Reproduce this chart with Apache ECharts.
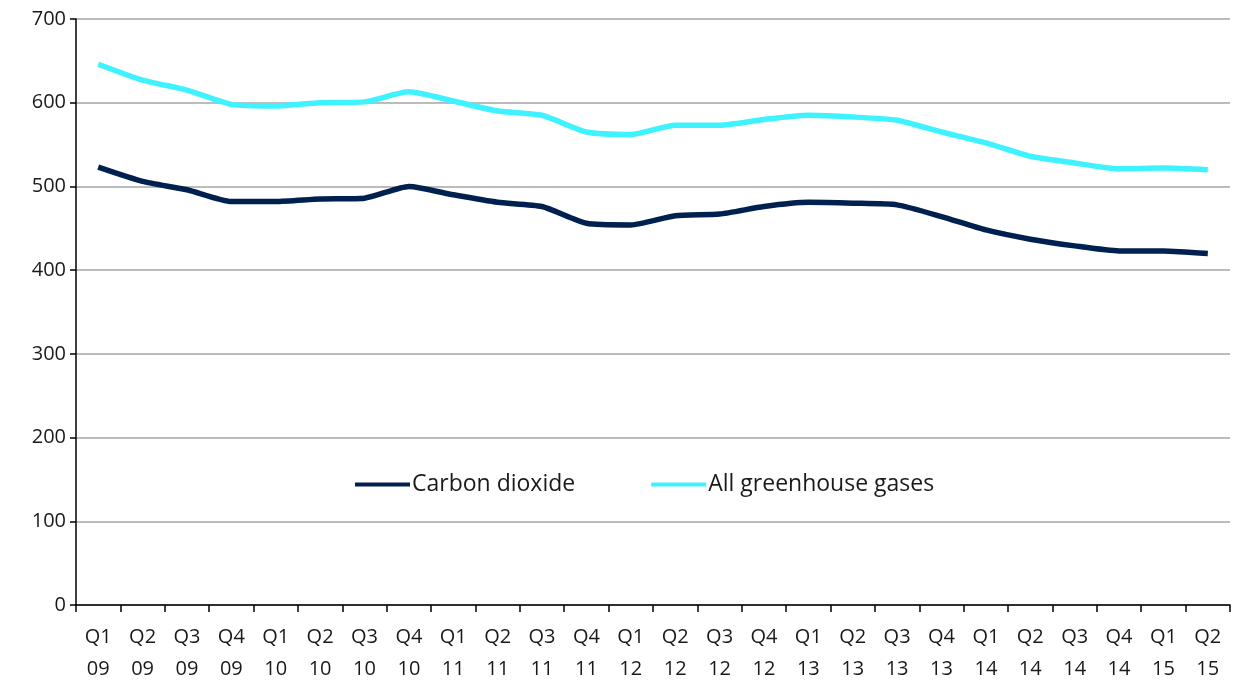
<!DOCTYPE html>
<html>
<head>
<meta charset="utf-8">
<script src="https://cdn.jsdelivr.net/npm/echarts@6/dist/echarts.min.js"></script>
<style>html,body{margin:0;padding:0;background:#fff;}#c{width:1237px;height:686px;}</style>
</head>
<body>
<div id="c"></div>
<script>
const categories = ['Q1\n09','Q2\n09','Q3\n09','Q4\n09','Q1\n10','Q2\n10','Q3\n10','Q4\n10','Q1\n11','Q2\n11','Q3\n11','Q4\n11','Q1\n12','Q2\n12','Q3\n12','Q4\n12','Q1\n13','Q2\n13','Q3\n13','Q4\n13','Q1\n14','Q2\n14','Q3\n14','Q4\n14','Q1\n15','Q2\n15'];
const carbonDioxide = [523,506,496,482,482,485,486,500,490,481,476,456,454,465,467,476,481,480,478,464,448,437,429,423,423,420];
const allGreenhouseGases = [646,627,615,598,596,600,601,613,602,590,585,565,562,573,573,580,585,583,579,565,552,536,528,521,522,520];
const seriesNames = ['Carbon dioxide','All greenhouse gases'];

const chart = echarts.init(document.getElementById('c'));
const font = "'Open Sans', 'DejaVu Sans', sans-serif";
chart.setOption({
  animation: false,
  backgroundColor: '#fff',
  grid: {left: 76, right: 7, top: 19, bottom: 81, containLabel: false},
  legend: {
    data: seriesNames,
    top: 468,
    left: 350,
    itemWidth: 55,
    itemHeight: 4,
    itemGap: 76,
    icon: 'rect',
    textStyle: {fontFamily: font, fontSize: 23, color: '#1a1a1a', padding: [0,0,0,-3]}
  },
  xAxis: {
    type: 'category',
    data: categories,
    boundaryGap: true,
    axisLine: {lineStyle: {color: '#000', width: 1.5}},
    axisTick: {show: true, length: 7, lineStyle: {color: '#000', width: 1.5}},
    axisLabel: {fontFamily: font, fontSize: 20, color: '#1a1a1a', lineHeight: 32, margin: 16, interval: 0}
  },
  yAxis: {
    type: 'value',
    min: 0, max: 700, interval: 100,
    axisLine: {show: true, lineStyle: {color: '#000', width: 1.5}},
    axisTick: {show: true, length: 6, lineStyle: {color: '#000', width: 1.5}},
    axisLabel: {fontFamily: font, fontSize: 20, color: '#1a1a1a', margin: 10},
    splitLine: {lineStyle: {color: '#a6a6a6', width: 1.5}}
  },
  series: [
    {name: seriesNames[0], type: 'line', data: carbonDioxide, smooth: 0.2, symbol: 'none',
     lineStyle: {color: '#00204f', width: 5.5}, itemStyle: {color: '#00204f'}},
    {name: seriesNames[1], type: 'line', data: allGreenhouseGases, smooth: 0.2, symbol: 'none',
     lineStyle: {color: '#3ff2ff', width: 5.5}, itemStyle: {color: '#3ff2ff'}}
  ]
});
</script>
</body>
</html>
